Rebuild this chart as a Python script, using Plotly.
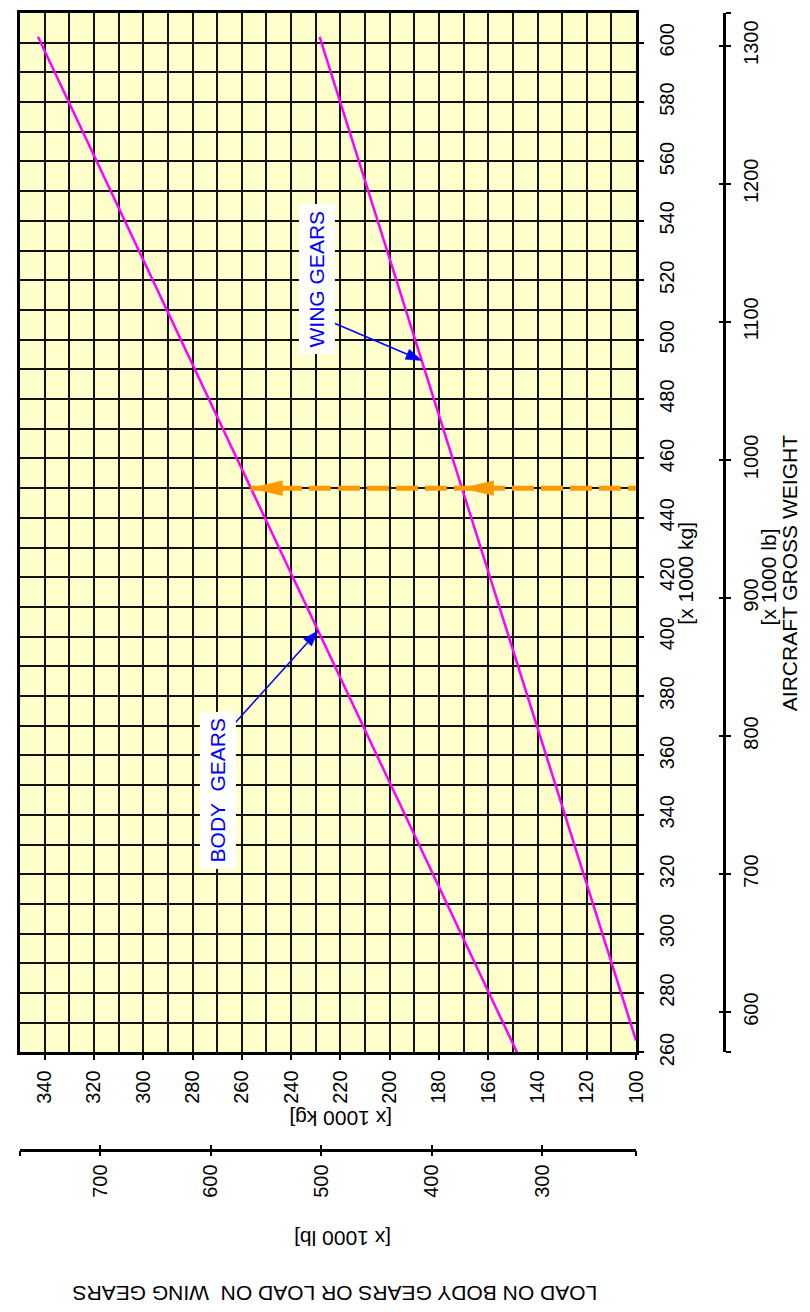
import numpy as np
import plotly.graph_objects as go

# ---------------- data ----------------
weight_kg_ticks = list(range(260, 601, 20))
load_kg_ticks = list(range(100, 341, 20))
weight_lb_ticks = [600, 700, 800, 900, 1000, 1100, 1200, 1300]
load_lb_ticks = [300, 400, 500, 600, 700]

body_weight_kg = [260, 602]
body_gear_load_kg = [148.3, 342.7]
wing_weight_kg = [264, 602]
wing_gear_load_kg = [100.0, 228.4]

example_weight_kg = 450
body_arrow_weight = 402
wing_arrow_weight = 493

# ---------------- layout geometry ----------------
W, H = 810, 1312
ML, MR, MT, MB = 12, 0, 5, 0
PW, PH = W - ML - MR, H - MT - MB


def px(x):
    return (x - ML) / PW


def py(y):
    return (H - MB - y) / PH


X_RANGE = [350, 100]
Y_RANGE = [260, 610]
LB_X_RANGE = [772.7, 215.2]
LB_Y_RANGE = [570.8, 1323.7]
x_dom = [0, px(636.7)]
y_dom = [py(1055.7), 1]

plot_w = (x_dom[1] - x_dom[0]) * PW
plot_h = (y_dom[1] - y_dom[0]) * PH
kx = plot_w / abs(X_RANGE[0] - X_RANGE[1])   # px per load unit
ky = plot_h / abs(Y_RANGE[1] - Y_RANGE[0])   # px per kg weight


def to_px(load, wt):
    return np.array([-load * kx, -wt * ky])


def to_data(p):
    return -p[0] / kx, -p[1] / ky


def head_path(tip, tail, length, half):
    t = to_px(*tip)
    s = to_px(*tail)
    d = (t - s) / np.linalg.norm(t - s)
    n = np.array([-d[1], d[0]])
    base = t - d * length
    pts = [t, base + n * half, base - n * half]
    dpts = [to_data(p) for p in pts]
    path = "M " + " L ".join(f"{a},{b}" for a, b in dpts) + " Z"
    return path, to_data(base)


FONT = "Liberation Sans, Arial, sans-serif"
BLACK = "#000000"
ORANGE = "#FF9900"
BLUE = "#0000FF"
MAGENTA = "#FF00FF"

fig = go.Figure()

fig.add_trace(go.Scatter(x=body_gear_load_kg, y=body_weight_kg, mode="lines",
                         line=dict(color=MAGENTA, width=2.5), hoverinfo="skip",
                         showlegend=False))
fig.add_trace(go.Scatter(x=wing_gear_load_kg, y=wing_weight_kg, mode="lines",
                         line=dict(color=MAGENTA, width=2.5), hoverinfo="skip",
                         showlegend=False))

body_tip = float(np.interp(example_weight_kg, body_weight_kg, body_gear_load_kg))
wing_tip = float(np.interp(example_weight_kg, wing_weight_kg, wing_gear_load_kg))

fig.add_trace(go.Scatter(x=[body_tip, X_RANGE[1]], y=[example_weight_kg, example_weight_kg],
                         mode="lines", line=dict(color=ORANGE, width=5, dash="22px,7px"),
                         hoverinfo="skip", showlegend=False))

# dummy traces so the secondary axes get drawn
for xa, ya, xs, ys in [("x3", "y", load_lb_ticks, [None] * len(load_lb_ticks)),
                       ("x4", "y", load_lb_ticks, [None] * len(load_lb_ticks)),
                       ("x", "y3", [None] * len(weight_lb_ticks), weight_lb_ticks),
                       ("x", "y4", [None] * len(weight_lb_ticks), weight_lb_ticks)]:
    fig.add_trace(go.Scatter(x=xs, y=ys, xaxis=xa, yaxis=ya, mode="markers",
                             marker=dict(opacity=0), hoverinfo="skip", showlegend=False))

shapes = []
# orange arrowheads (pointing left, toward higher load)
for tip in (body_tip, wing_tip):
    p, _ = head_path((tip, example_weight_kg), (tip - 10, example_weight_kg), 32, 7.5)
    shapes.append(dict(type="path", path=p, xref="x", yref="y", fillcolor=ORANGE,
                       line=dict(color=ORANGE, width=0.5), layer="above"))

# blue annotation arrows
blue_arrows = [
    ((float(np.interp(body_arrow_weight, body_weight_kg, body_gear_load_kg)), body_arrow_weight),
     (263.1, 370.6)),
    ((float(np.interp(wing_arrow_weight, wing_weight_kg, wing_gear_load_kg)), wing_arrow_weight),
     (224.3, 506.2)),
]
for tip, tail in blue_arrows:
    p, base = head_path(tip, tail, 16, 5.5)
    shapes.append(dict(type="line", x0=tail[0], y0=tail[1], x1=base[0], y1=base[1],
                       xref="x", yref="y", line=dict(color=BLUE, width=1.5), layer="above"))
    shapes.append(dict(type="path", path=p, xref="x", yref="y", fillcolor=BLUE,
                       line=dict(color=BLUE, width=0.5), layer="above"))

ANCH = dict(xanchor="center", yanchor="middle", showarrow=False)
annotations = [
    dict(x=229.5, y=520.6, xref="x", yref="y", text="WING GEARS", textangle=-90,
         bgcolor="white", borderpad=6, font=dict(family=FONT, size=21, color=BLUE), **ANCH),
    dict(x=269.7, y=348.2, xref="x", yref="y", text="BODY  GEARS", textangle=-90,
         bgcolor="white", borderpad=6, font=dict(family=FONT, size=21, color=BLUE), **ANCH),
    dict(x=px(687), y=py(571), xref="paper", yref="paper", text="[x 1000 kg]",
         textangle=-90, font=dict(family=FONT, size=21, color=BLACK), **ANCH),
    dict(x=px(771), y=py(575), xref="paper", yref="paper", text="[x 1000 lb]",
         textangle=-90, font=dict(family=FONT, size=21, color=BLACK), **ANCH),
    dict(x=px(793), y=py(571), xref="paper", yref="paper", text="AIRCRAFT GROSS WEIGHT",
         textangle=-90, font=dict(family=FONT, size=21, color=BLACK), **ANCH),
    dict(x=px(337), y=py(1123), xref="paper", yref="paper", text="[x 1000 kg]",
         textangle=180, font=dict(family=FONT, size=21, color=BLACK), **ANCH),
    dict(x=px(339), y=py(1244), xref="paper", yref="paper", text="[x 1000 lb]",
         textangle=180, font=dict(family=FONT, size=21, color=BLACK), **ANCH),
    dict(x=px(331), y=py(1300), xref="paper", yref="paper",
         text="LOAD ON BODY GEARS OR LOAD ON  WING GEARS",
         textangle=180, font=dict(family=FONT, size=21, color=BLACK), **ANCH),
]

tickfont = dict(family=FONT, size=20, color=BLACK)
eps = 1e-6
lbx_vals = [LB_X_RANGE[1] + eps] + load_lb_ticks + [LB_X_RANGE[0] - eps]
lbx_text = [""] + [str(v) for v in load_lb_ticks] + [""]
lby_vals = [LB_Y_RANGE[0] + eps] + weight_lb_ticks + [LB_Y_RANGE[1] - eps]
lby_text = [""] + [str(v) for v in weight_lb_ticks] + [""]

grid = dict(color="#111111", width=1.5)

fig.update_layout(
    width=W, height=H,
    margin=dict(l=ML, r=MR, t=MT, b=MB, pad=0),
    paper_bgcolor="white", plot_bgcolor="#FFFFCC",
    showlegend=False,
    shapes=shapes, annotations=annotations,
    xaxis=dict(range=X_RANGE, domain=x_dom, anchor="y", tickvals=load_kg_ticks,
               tickangle=-90, ticks="outside", ticklen=5, tickwidth=1.5, tickcolor=BLACK,
               tickfont=tickfont, showline=True, linewidth=3, linecolor=BLACK, mirror=True,
               showgrid=True, gridcolor=grid["color"], gridwidth=grid["width"], zeroline=False,
               minor=dict(dtick=10, tick0=100, showgrid=True, gridcolor=grid["color"],
                          gridwidth=grid["width"], ticks=""),
               ticklabelstandoff=2),
    yaxis=dict(range=Y_RANGE, domain=y_dom, anchor="x", side="right", tickvals=weight_kg_ticks,
               tickangle=-90, ticks="outside", ticklen=5, tickwidth=1.5, tickcolor=BLACK,
               tickfont=tickfont, showline=True, linewidth=3, linecolor=BLACK, mirror=True,
               showgrid=True, gridcolor=grid["color"], gridwidth=grid["width"], zeroline=False,
               minor=dict(dtick=10, tick0=260, showgrid=True, gridcolor=grid["color"],
                          gridwidth=grid["width"], ticks=""),
               ticklabelstandoff=6),
    xaxis3=dict(range=LB_X_RANGE, overlaying="x", anchor="free", position=py(1154),
                side="bottom", tickvals=lbx_vals, ticktext=lbx_text, tickangle=-90,
                ticks="outside", ticklen=5, tickwidth=2, tickcolor=BLACK, tickfont=tickfont,
                showline=True, linewidth=2.5, linecolor=BLACK, showgrid=False, zeroline=False),
    xaxis4=dict(range=LB_X_RANGE, overlaying="x", anchor="free", position=py(1154),
                side="bottom", tickvals=lbx_vals, ticks="inside", ticklen=5, tickwidth=2,
                tickcolor=BLACK, showticklabels=False, showline=False, showgrid=False,
                zeroline=False),
    yaxis3=dict(range=LB_Y_RANGE, overlaying="y", anchor="free", position=px(726),
                side="right", tickvals=lby_vals, ticktext=lby_text, tickangle=-90,
                ticks="outside", ticklen=5, tickwidth=2, tickcolor=BLACK, tickfont=tickfont,
                showline=True, linewidth=2.5, linecolor=BLACK, showgrid=False, zeroline=False,
                ticklabelstandoff=3),
    yaxis4=dict(range=LB_Y_RANGE, overlaying="y", anchor="free", position=px(726),
                side="right", tickvals=lby_vals, ticks="inside", ticklen=5, tickwidth=2,
                tickcolor=BLACK, showticklabels=False, showline=False, showgrid=False,
                zeroline=False),
)

fig.write_html("out.html")
